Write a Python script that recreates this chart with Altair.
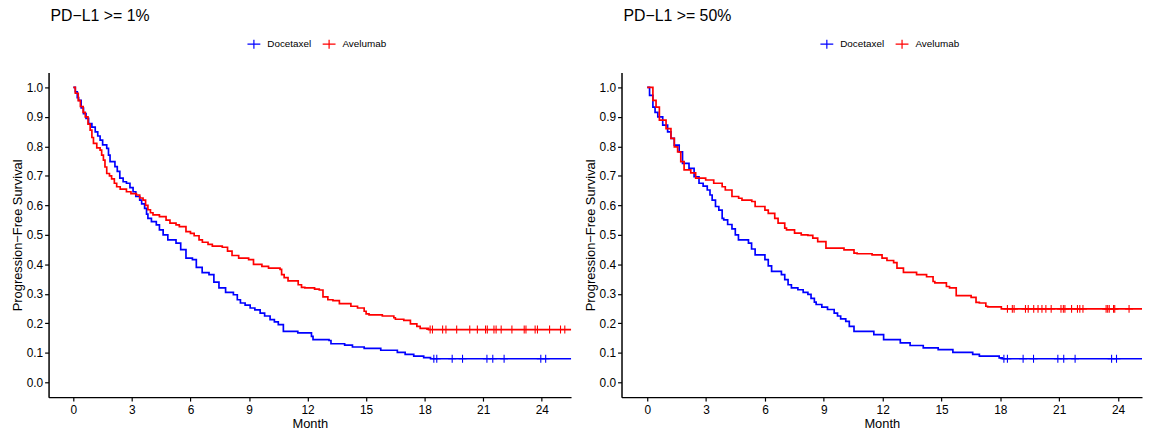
import altair as alt
import pandas as pd

# ---------------- data ----------------
ARMS = ["Docetaxel", "Avelumab"]
COLORS = ["#0000FF", "#FF0000"]
X_TICKS = [0, 3, 6, 9, 12, 15, 18, 21, 24]
Y_TICKS = [0.0, 0.1, 0.2, 0.3, 0.4, 0.5, 0.6, 0.7, 0.8, 0.9, 1.0]

# PD-L1 >= 1% : Docetaxel
L1_DOC_T = [0, 0.1, 0.2, 0.27, 0.4, 0.52, 0.65, 0.78, 0.95, 1.12, 1.25, 1.37, 1.5, 1.71, 1.8,
            1.88, 2.13, 2.25, 2.38, 2.55, 2.72, 2.9, 3.06, 3.2, 3.4, 3.5, 3.65, 3.75, 3.82, 4.0,
            4.25, 4.41, 4.6, 4.84, 5.26, 5.5, 5.77, 6.1, 6.3, 6.6, 6.95, 7.2, 7.46, 7.8, 8.2,
            8.4, 8.56, 8.8, 9.06, 9.3, 9.57, 9.8, 10.08, 10.3, 10.5, 10.76, 11.5, 12.2, 12.28, 13.1,
            13.2, 13.9, 14.3, 14.9, 15.75, 16.6, 17.0, 17.44, 17.95, 18.3, 25.6]
L1_DOC_S = [1.0, 0.985, 0.965, 0.956, 0.93, 0.911, 0.895, 0.877, 0.865, 0.849, 0.835, 0.821, 0.805, 0.793, 0.77,
            0.748, 0.731, 0.715, 0.692, 0.68, 0.675, 0.66, 0.646, 0.63, 0.618, 0.605, 0.59, 0.57, 0.556, 0.545,
            0.534, 0.517, 0.5, 0.483, 0.472, 0.45, 0.421, 0.416, 0.39, 0.372, 0.365, 0.34, 0.32, 0.305, 0.297,
            0.28, 0.269, 0.262, 0.252, 0.246, 0.235, 0.225, 0.213, 0.205, 0.196, 0.173, 0.168, 0.156, 0.145, 0.142,
            0.131, 0.126, 0.12, 0.115, 0.109, 0.102, 0.095, 0.089, 0.084, 0.08, 0.08]
L1_DOC_C = [18.47, 18.62, 19.41, 19.94, 21.19, 21.49, 22.07, 23.95, 24.2]

# PD-L1 >= 1% : Avelumab
L1_AVE_T = [0, 0.1, 0.25, 0.36, 0.5, 0.61, 0.75, 0.86, 0.95, 1.03, 1.2, 1.37, 1.45, 1.54, 1.62,
            1.71, 1.85, 1.96, 2.1, 2.22, 2.4, 2.72, 2.95, 3.23, 3.4, 3.57, 3.7, 3.82, 3.95, 4.08,
            4.41, 4.75, 4.95, 5.26, 5.43, 5.77, 6.0, 6.19, 6.44, 6.61, 6.9, 7.12, 7.63, 7.9, 8.13,
            8.47, 8.98, 9.23, 9.66, 10.0, 10.59, 10.67, 10.8, 11.0, 11.52, 11.69, 11.86, 12.36, 12.6, 12.79,
            13.04, 13.3, 13.63, 14.22, 14.56, 14.9, 15.0, 15.15, 15.83, 16.42, 16.5, 16.93, 17.27, 17.6, 17.77,
            18.2, 25.6]
L1_AVE_S = [1.0, 0.98, 0.955, 0.935, 0.915, 0.9, 0.875, 0.855, 0.83, 0.81, 0.795, 0.787, 0.77, 0.753, 0.73,
            0.708, 0.7, 0.69, 0.675, 0.663, 0.655, 0.646, 0.64, 0.635, 0.625, 0.618, 0.6, 0.585, 0.575, 0.568,
            0.562, 0.55, 0.54, 0.534, 0.528, 0.511, 0.505, 0.497, 0.483, 0.475, 0.468, 0.462, 0.458, 0.445, 0.43,
            0.421, 0.416, 0.4, 0.393, 0.387, 0.383, 0.365, 0.355, 0.344, 0.331, 0.322, 0.32, 0.316, 0.313, 0.29,
            0.28, 0.277, 0.267, 0.258, 0.252, 0.241, 0.232, 0.229, 0.225, 0.219, 0.214, 0.21, 0.198, 0.19, 0.183,
            0.179, 0.179]
L1_AVE_C = [18.28, 18.4, 18.92, 19.09, 19.64, 20.31, 20.7, 21.12, 21.21, 21.55, 21.66, 21.92, 22.47,
            23.1, 23.19, 23.66, 23.78, 24.4, 24.96, 25.18]

# PD-L1 >= 50% : Docetaxel
L50_DOC_T = [0, 0.12, 0.29, 0.4, 0.54, 0.79, 1.04, 1.21, 1.38, 1.63, 1.8, 2.13, 2.39, 2.64, 2.85,
             3.06, 3.2, 3.31, 3.48, 3.65, 3.82, 3.9, 4.1, 4.32, 4.49, 4.65, 5.16, 5.32, 5.5, 6.0,
             6.17, 6.34, 6.84, 7.01, 7.18, 7.35, 7.68, 7.95, 8.19, 8.35, 8.52, 8.61, 8.9, 9.19, 9.53,
             9.7, 9.86, 10.12, 10.3, 10.54, 11.55, 12.05, 12.9, 13.4, 14.07, 14.83, 15.58, 16.59, 16.93, 17.94,
             18.1, 25.3]
L50_DOC_S = [1.0, 0.973, 0.933, 0.915, 0.9, 0.872, 0.849, 0.827, 0.804, 0.781, 0.742, 0.725, 0.697, 0.675, 0.665,
             0.652, 0.635, 0.618, 0.596, 0.584, 0.556, 0.551, 0.535, 0.52, 0.5, 0.483, 0.472, 0.452, 0.432, 0.416,
             0.395, 0.376, 0.365, 0.348, 0.331, 0.32, 0.314, 0.305, 0.298, 0.285, 0.272, 0.264, 0.255, 0.247, 0.235,
             0.225, 0.215, 0.207, 0.19, 0.173, 0.162, 0.145, 0.134, 0.125, 0.117, 0.111, 0.102, 0.095, 0.089, 0.083,
             0.08, 0.08]
L50_DOC_C = [18.18, 18.36, 19.16, 19.69, 20.93, 21.23, 21.81, 23.67, 23.92]

# PD-L1 >= 50% : Avelumab
L50_AVE_T = [0, 0.29, 0.45, 0.62, 0.96, 1.21, 1.38, 1.55, 1.71, 1.88, 2.22, 2.47, 2.98, 3.39, 3.82,
             3.98, 4.32, 4.66, 4.83, 5.33, 5.5, 6.0, 6.17, 6.5, 6.67, 7.01, 7.1, 7.51, 7.85, 8.19,
             8.44, 8.69, 9.11, 10.03, 10.54, 10.7, 11.46, 11.97, 12.22, 12.56, 12.73, 13.06, 13.73, 14.24, 14.57,
             14.66, 15.25, 15.41, 15.75, 16.51, 16.76, 16.93, 17.26, 17.35, 18.05, 25.3]
L50_AVE_S = [1.0, 0.956, 0.933, 0.889, 0.86, 0.827, 0.798, 0.781, 0.748, 0.72, 0.71, 0.692, 0.686, 0.675, 0.663,
             0.652, 0.63, 0.624, 0.618, 0.613, 0.596, 0.584, 0.573, 0.556, 0.54, 0.523, 0.517, 0.506, 0.5, 0.498,
             0.489, 0.477, 0.455, 0.449, 0.438, 0.436, 0.432, 0.421, 0.413, 0.406, 0.387, 0.373, 0.365, 0.358, 0.342,
             0.337, 0.325, 0.32, 0.294, 0.288, 0.271, 0.269, 0.258, 0.256, 0.249, 0.249]
L50_AVE_C = [18.36, 18.61, 18.7, 19.28, 19.42, 19.7, 19.92, 20.12, 20.32, 20.59, 21.09, 21.21, 21.29,
             21.63, 21.93, 22.05, 22.21, 23.39, 23.47, 23.55, 23.77, 23.83, 24.56]

FONT = "Liberation Sans"


def surv_at(ts, ss, t):
    val = ss[0]
    for ti, si in zip(ts, ss):
        if ti <= t:
            val = si
        else:
            break
    return val


def panel(title, curves, censors, xdom, width):
    rows, crows = [], []
    for arm, (ts, ss), cs in zip(ARMS, curves, censors):
        for t, s in zip(ts, ss):
            rows.append({"Month": t, "S": s, "Arm": arm})
        for c in cs:
            crows.append({"Month": c, "S": surv_at(ts, ss, c), "Arm": arm})
    lines_df = pd.DataFrame(rows)
    cens_df = pd.DataFrame(crows)

    color = alt.Color(
        "Arm:N",
        scale=alt.Scale(domain=ARMS, range=COLORS),
        legend=alt.Legend(
            title=None, orient="none", legendX=200, legendY=-36.5,
            direction="horizontal",
            symbolType="M-1,0L1,0M0,-0.7L0,0.7", symbolSize=169,
            symbolStrokeWidth=1.2, symbolFillColor="transparent", symbolOpacity=1,
            labelFontSize=10, labelFont=FONT, labelColor="black",
            labelOffset=6, columnPadding=8, padding=0,
        ),
    )
    x = alt.X("Month:Q", scale=alt.Scale(domain=xdom, nice=False, zero=False),
              axis=alt.Axis(values=X_TICKS, format="d", title="Month"))
    y = alt.Y("S:Q", scale=alt.Scale(domain=[-0.05, 1.05], nice=False, zero=False),
              axis=alt.Axis(values=Y_TICKS, format=".1f", title="Progression\u2212Free Survival"))

    line = alt.Chart(lines_df).mark_line(
        interpolate="step-after", strokeWidth=1.7, clip=True
    ).encode(x=x, y=y, color=color)
    cens = alt.Chart(cens_df).mark_point(
        shape="M0,-1L0,1M-1,0L1,0", filled=False, size=64, strokeWidth=1.1, opacity=1, clip=True
    ).encode(x=x, y=y, color=color)

    return alt.layer(line, cens).properties(
        width=width, height=328,
        title=alt.TitleParams(
            text=title, anchor="start", frame="group", fontSize=16, font=FONT,
            fontWeight="normal", color="black", baseline="alphabetic", offset=0, dx=2,
        ),
    )


left = panel("PD\u2212L1 >= 1%", [(L1_DOC_T, L1_DOC_S), (L1_AVE_T, L1_AVE_S)],
             [L1_DOC_C, L1_AVE_C], [-1.27, 25.5], 528)
right = panel("PD\u2212L1 >= 50%", [(L50_DOC_T, L50_DOC_S), (L50_AVE_T, L50_AVE_S)],
              [L50_DOC_C, L50_AVE_C], [-1.31, 25.22], 526)

chart = alt.hconcat(left, right, spacing=12).resolve_scale(
    color="independent", x="independent", y="independent"
).resolve_legend(color="independent").properties(
    padding={"left": 3, "top": -3, "right": 0, "bottom": 0}
).configure_view(stroke="transparent").configure_axis(
    grid=False, domainColor="black", domainWidth=1.5, tickColor="black", tickWidth=1.2,
    tickSize=4, labelFont=FONT, labelFontSize=12, labelColor="black", labelPadding=2,
    titleFont=FONT, titleFontSize=13, titleFontWeight="normal", titleColor="black", titlePadding=2,
).configure_axisX(labelPadding=4, titlePadding=2).configure_axisY(minExtent=22, maxExtent=22)

chart.save("out.html", embed_options={"renderer": "svg", "actions": False})
